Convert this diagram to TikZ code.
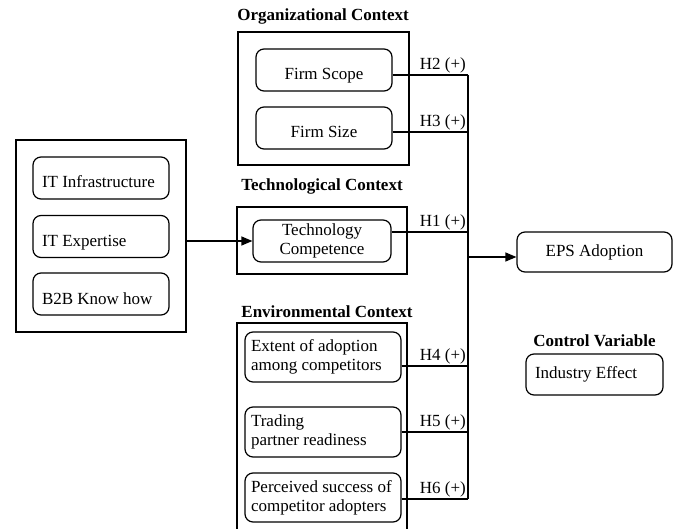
\documentclass[tikz,border=0pt]{standalone}
\usepackage{fontspec}
\setmainfont{Liberation Serif}
\usetikzlibrary{arrows.meta}

\begin{document}
\begin{tikzpicture}[x=1pt,y=-1pt,
	every node/.style={font=\fontsize{17}{19}\selectfont},
	frame/.style={draw, line width=1.4pt, inner sep=0pt},
	factor/.style={draw, line width=1.2pt, rounded corners=8pt, inner sep=0pt, minimum width=136pt, minimum height=42pt},
	leftfactor/.style={factor, inner xsep=9pt, text width=118pt, align=flush left},
	envfactor/.style={factor, inner xsep=6pt, text width=144pt, align=flush left, minimum height=50pt},
	lowtext/.style={text height=20pt, text depth=0pt},
	heading/.style={font=\fontsize{17}{19}\selectfont\bfseries},
	link/.style={line width=1.2pt},
	hyp/.style={above left, inner sep=1.5pt},
	>={Triangle[length=11pt,width=9pt]}]
	
	\useasboundingbox (0,0) rectangle (676,529);
	
	\node[heading] (orgtitle) at (323,16) {Organizational Context};
	\node[frame, minimum width=171pt, minimum height=133pt] (org) at (323.5,98.5) {};
	\node[factor, lowtext] (scope) at (324,70) {Firm Scope};
	\node[factor, lowtext] (fsize) at (324,128) {Firm Size};
	
	\node[heading] (techtitle) at (322,186) {Technological Context};
	\node[frame, minimum width=170pt, minimum height=67pt] (tech) at (322,240.5) {};
	\node[factor, align=center, minimum width=138pt] (competence) at (322,241) {Technology\\Competence};
	
	\node[frame, minimum width=170pt, minimum height=192pt] (left) at (101,236) {};
	\node[leftfactor, lowtext] (infra) at (101,178) {IT Infrastructure};
	\node[leftfactor, lowtext] (expertise) at (101,236.5) {IT Expertise};
	\node[leftfactor, lowtext] (b2b) at (101,294) {B2B Know how};
	
	\node[heading] (envtitle) at (327,312) {Environmental Context};
	\draw[line width=1.4pt] (237,529) |- (407,323) -- (407,529);
	\node[envfactor] (extent) at (323,357) {Extent of adoption\\among competitors};
	\node[envfactor] (trading) at (323,432) {Trading\\partner readiness};
	\node[envfactor, minimum height=49pt] (perceived) at (323,497.5) {Perceived success of\\competitor adopters};
	
	\node[factor, minimum width=155pt, minimum height=40pt] (eps) at (594.5,252) {EPS Adoption};
	
	\node[heading] (ctrltitle) at (594.5,341) {Control Variable};
	\node[leftfactor, minimum height=41pt, text width=119pt] (industry) at (594.5,374.5) {Industry Effect};
	
	\coordinate (h2) at (468,75);
	\coordinate (h3) at (468,132);
	\coordinate (h1) at (468,232);
	\coordinate (hout) at (468,257);
	\coordinate (h4) at (468,366);
	\coordinate (h5) at (468,432);
	\coordinate (h6) at (468,499);
	
	\draw[link] (scope.east |- h2) -- (h2) node[hyp] {H2 (+)};
	\draw[link] (fsize.east |- h3) -- (h3) node[hyp] {H3 (+)};
	\draw[link] (competence.east |- h1) -- (h1) node[hyp] {H1 (+)};
	\draw[link] (extent.east |- h4) -- (h4) node[hyp] {H4 (+)};
	\draw[link] (trading.east |- h5) -- (h5) node[hyp] {H5 (+)};
	\draw[link] (perceived.east |- h6) -- (h6) node[hyp] {H6 (+)};
	\draw[link] (h2) -- (h6);
	
	\draw[link,->] (hout) -- (hout -| eps.west);
	\draw[link,->] (competence.west -| left.east) -- (competence.west);
	
\end{tikzpicture}
\end{document}
